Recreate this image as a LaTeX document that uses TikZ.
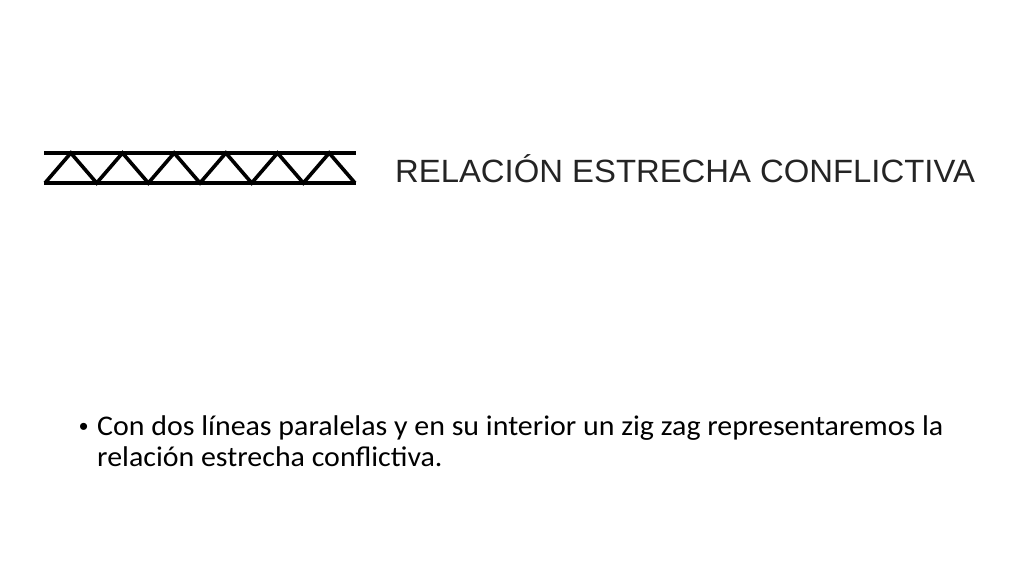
\documentclass[tikz,border=0pt]{standalone}
\usepackage{fontspec}
\setmainfont{Carlito}
\newfontfamily\bodyf[FakeStretch=1.05]{Carlito}
\newfontfamily\arialf[FakeStretch=1.02]{Liberation Sans}
\newfontfamily\bulletf{Liberation Sans}
\definecolor{titlegray}{HTML}{242424}
\begin{document}
\begin{tikzpicture}[x=1pt,y=-1pt,
  symline/.style={line width=3.6pt,black,line join=miter},
  titletext/.style={anchor=base west,inner sep=0pt,text=titlegray,font=\arialf\fontsize{32.2}{38}\selectfont},
  bodytext/.style={anchor=base west,inner sep=0pt,text=black,font=\bodyf\fontsize{28.5}{32}\selectfont},
  bullettext/.style={anchor=base west,inner sep=0pt,text=black,font=\bulletf\fontsize{26}{32}\selectfont}]
\useasboundingbox[fill=white] (0,0) rectangle (1024,576);
% symbol
\draw[symline] (44,153) -- (356,153);
\draw[symline] (44,183) -- (356,183);
\draw[symline] (45,183)
  \foreach \k in {0,...,5} { -- ({45+51.67*\k+25.83},153) -- ({45+51.67*(\k+1)},183) };
% title
\node[titletext] (title) at (395,182) {RELACIÓN ESTRECHA CONFLICTIVA};
% bullet text
\node[bullettext] (bullet) at (79,435) {•};
\node[bodytext] (line1) at (97,435) {Con dos líneas paralelas y en su interior un zig zag representaremos la};
\node[bodytext] (line2) at (97,466) {relación estrecha conflictiva.};
\end{tikzpicture}
\end{document}
